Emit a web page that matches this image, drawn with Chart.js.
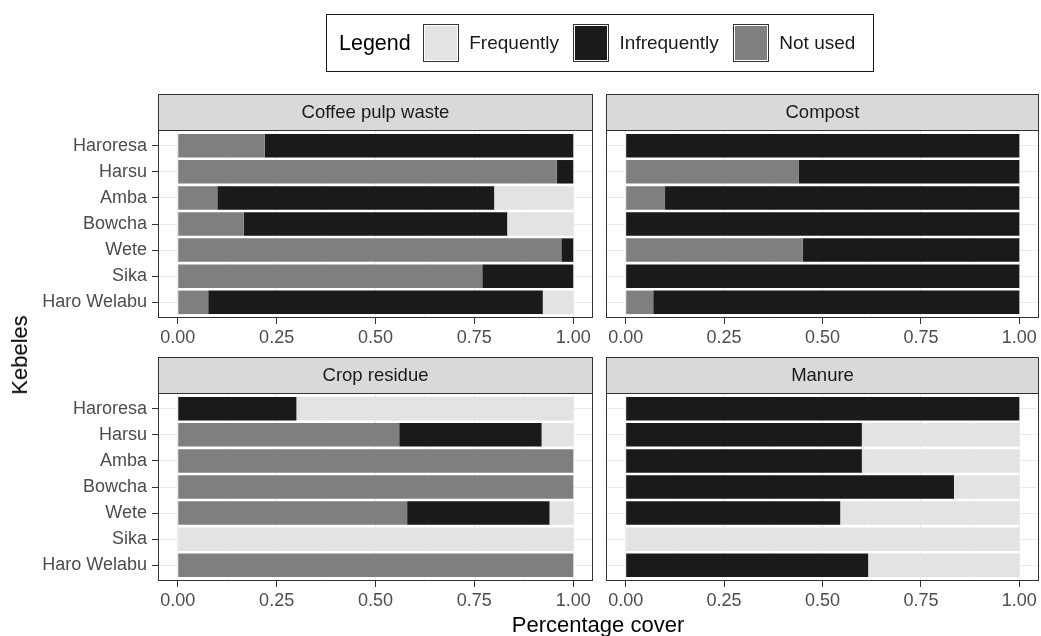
<!DOCTYPE html>
<html>
<head>
<meta charset="utf-8">
<title>Use of organic inputs by kebele</title>
<script src="https://cdn.jsdelivr.net/npm/chart.js@4/dist/chart.umd.min.js"></script>
<style>
  html, body { margin: 0; padding: 0; background: #fff; }
  #wrap { position: relative; width: 1041px; height: 636px; overflow: hidden;
          font-family: 'Liberation Sans', Arial, sans-serif; }
  canvas.panel { position: absolute; left: 0; top: 0; }
  #legend { position: absolute; left: 326px; top: 14px; width: 546px; height: 56px;
            border: 1px solid #1a1a1a; display: flex; align-items: center; }
  #legend .ttl { font-size: 21.5px; color: #000; margin-left: 12px; }
  #legend .item { display: flex; align-items: center; margin-left: 14px; }
  #legend .item:first-of-type { margin-left: 12px; }
  #legend .key { width: 34px; height: 36px; border: 1px solid #333;
                 box-shadow: inset 0 0 0 1px #fff; }
  #legend .lbl { font-size: 19px; color: #1a1a1a; margin-left: 10.5px; }
  .axtitle { position: absolute; font-size: 22px; color: #000; white-space: nowrap; }
  #ytitle { left: 20px; top: 355px; transform: translate(-50%, -50%) rotate(-90deg); }
  #xtitle { left: 598px; top: 625px; transform: translate(-50%, -50%); }
</style>
</head>
<body>
<div id="wrap">
  <div id="legend"><span class="ttl">Legend</span></div>
  <div class="axtitle" id="ytitle">Kebeles</div>
  <div class="axtitle" id="xtitle">Percentage cover</div>
</div>
<script>
// Kebeles, listed top to bottom
const kebeles = ['Haroresa', 'Harsu', 'Amba', 'Bowcha', 'Wete', 'Sika', 'Haro Welabu'];
const levels = ['Frequently', 'Infrequently', 'Not used'];
const xTicks = [0, 0.25, 0.5, 0.75, 1];
const xMinor = [0.125, 0.375, 0.625, 0.875];

// Share of households per kebele, by frequency of use
const coffeeNotUsed      = [0.22, 0.958, 0.10, 0.167, 0.97, 0.77, 0.077];
const coffeeInfrequently = [0.78, 0.042, 0.70, 0.666, 0.03, 0.23, 0.846];
const coffeeFrequently   = [0,    0,     0.20, 0.167, 0,    0,    0.077];

const compostNotUsed      = [0, 0.44, 0.10, 0, 0.45, 0, 0.07];
const compostInfrequently = [1, 0.56, 0.90, 1, 0.55, 1, 0.93];
const compostFrequently   = [0, 0,    0,    0, 0,    0, 0];

const cropNotUsed      = [0,    0.56, 1, 1, 0.58, 0, 1];
const cropInfrequently = [0.30, 0.36, 0, 0, 0.36, 0, 0];
const cropFrequently   = [0.70, 0.08, 0, 0, 0.06, 1, 0];

const manureNotUsed      = [0, 0,    0,    0,     0,     0, 0];
const manureInfrequently = [1, 0.60, 0.60, 0.834, 0.545, 0, 0.616];
const manureFrequently   = [0, 0.40, 0.40, 0.166, 0.455, 1, 0.384];

const fill = { 'Frequently': '#e3e3e3', 'Infrequently': '#1a1a1a', 'Not used': '#7f7f7f' };

const W = 1041, H = 636;
const panels = [
  { title: 'Coffee pulp waste', notUsed: coffeeNotUsed, infreq: coffeeInfrequently, freq: coffeeFrequently,
    box: { l: 158, t: 130, r: 593, b: 318 }, yLabels: true },
  { title: 'Compost', notUsed: compostNotUsed, infreq: compostInfrequently, freq: compostFrequently,
    box: { l: 606, t: 130, r: 1039, b: 318 }, yLabels: false },
  { title: 'Crop residue', notUsed: cropNotUsed, infreq: cropInfrequently, freq: cropFrequently,
    box: { l: 158, t: 393, r: 593, b: 581 }, yLabels: true },
  { title: 'Manure', notUsed: manureNotUsed, infreq: manureInfrequently, freq: manureFrequently,
    box: { l: 606, t: 393, r: 1039, b: 581 }, yLabels: false }
];

const STRIP_H = 36;
const FONT = "'Liberation Sans', Arial, sans-serif";
Chart.defaults.font.family = FONT;

// Legend
const legend = document.getElementById('legend');
levels.forEach(lv => {
  const item = document.createElement('div');
  item.className = 'item';
  const key = document.createElement('div');
  key.className = 'key';
  key.style.background = fill[lv];
  const lbl = document.createElement('span');
  lbl.className = 'lbl';
  lbl.textContent = lv;
  item.appendChild(key);
  item.appendChild(lbl);
  legend.appendChild(item);
});

// Facet frame and strip label
const facetFrame = {
  id: 'facetFrame',
  afterDraw(chart, args, opts) {
    const { ctx, chartArea: a } = chart;
    ctx.save();
    ctx.fillStyle = '#d9d9d9';
    ctx.fillRect(a.left, a.top - STRIP_H, a.right - a.left, STRIP_H);
    ctx.strokeStyle = '#333';
    ctx.lineWidth = 1;
    ctx.strokeRect(Math.round(a.left) + 0.5, Math.round(a.top - STRIP_H) + 0.5,
                   Math.round(a.right - a.left) - 1, STRIP_H);
    ctx.strokeRect(Math.round(a.left) + 0.5, Math.round(a.top) + 0.5,
                   Math.round(a.right - a.left) - 1, Math.round(a.bottom - a.top) - 1);
    ctx.fillStyle = '#1a1a1a';
    ctx.font = '18.5px ' + FONT;
    ctx.textAlign = 'center';
    ctx.textBaseline = 'middle';
    ctx.fillText(opts.title, (a.left + a.right) / 2, a.top - STRIP_H / 2 + 1);
    ctx.restore();
  }
};

const wrap = document.getElementById('wrap');
const toPoints = vals => vals.map((v, i) => ({ x: v, y: i }));
const isMajor = v => xTicks.some(t => Math.abs(t - v) < 1e-9);

panels.forEach(p => {
  const cv = document.createElement('canvas');
  cv.className = 'panel';
  cv.width = W; cv.height = H;
  wrap.insertBefore(cv, legend);
  const yw = p.yLabels ? 130 : 0;
  const xh = 40;
  new Chart(cv, {
    type: 'bar',
    data: {
      datasets: [
        { label: 'Not used', data: toPoints(p.notUsed), backgroundColor: fill['Not used'] },
        { label: 'Infrequently', data: toPoints(p.infreq), backgroundColor: fill['Infrequently'] },
        { label: 'Frequently', data: toPoints(p.freq), backgroundColor: fill['Frequently'] }
      ]
    },
    options: {
      indexAxis: 'y',
      responsive: false,
      animation: false,
      events: [],
      layout: { padding: { left: p.box.l - yw, right: W - p.box.r, top: p.box.t, bottom: H - p.box.b - xh } },
      datasets: { bar: { barPercentage: 0.9, categoryPercentage: 1, borderWidth: 0 } },
      plugins: {
        legend: { display: false },
        tooltip: { enabled: false },
        facetFrame: { title: p.title }
      },
      scales: {
        x: {
          type: 'linear', stacked: true, min: -0.05, max: 1.05, offset: false,
          afterBuildTicks: s => { s.ticks = xTicks.concat(xMinor).sort((a, b) => a - b).map(v => ({ value: v })); },
          afterFit: s => { s.height = xh; },
          border: { display: false },
          grid: {
            offset: false,
            color: c => (c.tick && isMajor(c.tick.value)) ? '#ebebeb' : '#f4f4f4',
            lineWidth: 1,
            tickLength: 6,
            tickColor: c => (c.tick && isMajor(c.tick.value)) ? '#333' : 'rgba(0,0,0,0)'
          },
          ticks: {
            autoSkip: false, maxRotation: 0, padding: 3,
            color: '#4d4d4d', font: { size: 18 },
            callback: v => isMajor(v) ? v.toFixed(2) : ''
          }
        },
        y: {
          type: 'linear', stacked: true, reverse: true, min: -0.6, max: 6.6, offset: false,
          afterBuildTicks: s => { s.ticks = kebeles.map((k, i) => ({ value: i })); },
          afterFit: s => { s.width = yw; },
          border: { display: false },
          grid: { offset: false, color: '#ebebeb', lineWidth: 1, tickLength: 6, tickColor: '#333', drawTicks: p.yLabels },
          ticks: {
            display: p.yLabels, autoSkip: false, padding: 5,
            color: '#4d4d4d', font: { size: 18 },
            callback: v => kebeles[v]
          }
        }
      }
    },
    plugins: [facetFrame]
  });
});
</script>
</body>
</html>
